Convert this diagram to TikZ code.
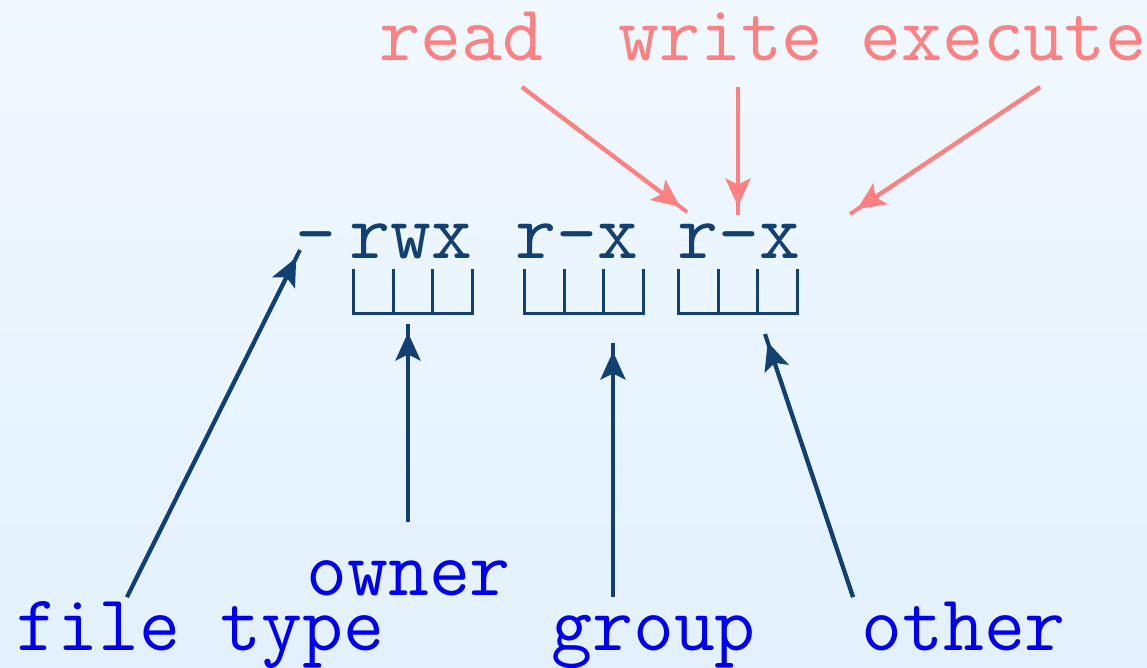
\documentclass[tikz,border=0pt]{standalone}
\usetikzlibrary{arrows.meta}
\definecolor{permblue}{RGB}{18,64,112}
\definecolor{labelblue}{RGB}{0,0,240}
\definecolor{bitred}{RGB}{255,128,128}
\definecolor{bgtop}{RGB}{241,248,255}
\definecolor{bgbottom}{RGB}{226,241,253}
\tikzset{
  ttext/.style={font=\fontsize{45.2}{52}\selectfont\ttfamily, inner sep=0pt, anchor=base west},
  pointer/.style={line width=0.08cm, postaction={draw, shorten >=0.17cm, -{Stealth[length=0.56cm,width=0.5cm,inset=0.12cm]}}},
  bracket/.style={line width=0.06cm, color=permblue}
}
\def\bitbox(#1){\draw[bracket] (#1,269) -- ++(0,44) -- ++(119,0) -- ++(0,-44);
  \draw[bracket] (#1+40,269) -- ++(0,44); \draw[bracket] (#1+79,269) -- ++(0,44);}

\begin{document}
\begin{tikzpicture}[x=0.02cm, y=-0.02cm]
		%%%%% START %%%%%
		\shade[top color=bgtop, bottom color=bgbottom] (0,0) rectangle (1147,667);
		\useasboundingbox (0,0) rectangle (1147,667);
		
		% permission string
		\node[ttext, permblue] (dash) at (295,258) {-};
		\node[ttext, permblue] (owner bits) at (349,258) {rwx};
		\node[ttext, permblue] (group bits) at (515,258) {r-x};
		\node[ttext, permblue] (other bits) at (677,258) {r-x};
		
		\bitbox(353)
		\bitbox(524)
		\bitbox(678)
		
		% top labels
		\node[ttext, bitred] (read) at (379,60) {read};
		\node[ttext, bitred] (write) at (618,60) {write};
		\node[ttext, bitred] (execute) at (860,60) {execute};
		
		% bottom labels
		\node[ttext, labelblue] (file type) at (16,650) {file type};
		\node[ttext, labelblue] (owner) at (306,595) {owner};
		\node[ttext, labelblue] (group) at (551,650) {group};
		\node[ttext, labelblue] (other) at (861,650) {other};
		
		% arrow ends
		\coordinate (read s) at (522,87);
		\coordinate (read e) at (687,212);
		\coordinate (write s) at (738,87);
		\coordinate (write e) at (738,215);
		\coordinate (execute s) at (1040,87);
		\coordinate (execute e) at (850,214);
		
		\coordinate (type s) at (127,597);
		\coordinate (type e) at (300,250);
		\coordinate (owner s) at (408,522);
		\coordinate (owner e) at (408,324);
		\coordinate (group s) at (613,597);
		\coordinate (group e) at (613,343);
		\coordinate (other s) at (853,597);
		\coordinate (other e) at (765,334);
		
		\draw[pointer, bitred] (read s) -- (read e);
		\draw[pointer, bitred] (write s) -- (write e);
		\draw[pointer, bitred] (execute s) -- (execute e);
		
		\draw[pointer, permblue] (type s) -- (type e);
		\draw[pointer, permblue] (owner s) -- (owner e);
		\draw[pointer, permblue] (group s) -- (group e);
		\draw[pointer, permblue] (other s) -- (other e);
		%%%%% END %%%%%
	\end{tikzpicture}
\end{document}
